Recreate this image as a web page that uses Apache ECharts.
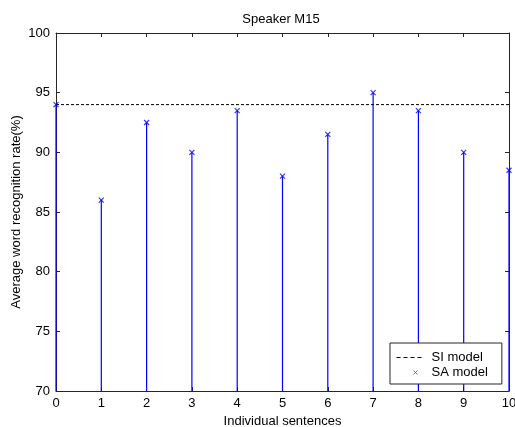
<!DOCTYPE html>
<html>
<head>
<meta charset="utf-8">
<script src="https://cdn.jsdelivr.net/npm/echarts@6/dist/echarts.min.js"></script>
<style>
  html, body { margin: 0; padding: 0; background: #fff; }
  #chart { width: 515px; height: 427px; }
</style>
</head>
<body>
<div id="chart"></div>
<script>
// Sentence indices and per-sentence recognition rates
const sentences = [0, 1, 2, 3, 4, 5, 6, 7, 8, 9, 10];
const saRates = [94, 86, 92.5, 90, 93.5, 88, 91.5, 95, 93.5, 90, 88.5];
const siRate = 94;
const yTicks = [70, 75, 80, 85, 90, 95, 100];

const axisColor = '#262626';
const font = 'Liberation Sans, Arial, sans-serif';
const crossPath = 'path://M0,0L10,10M10,0L0,10';
// legend glyphs: padded with zero-length segments so the icon box keeps 1:1 scale
const dashIcon = 'path://M-13,-6L-13,-6M13,6L13,6M-13,0L-9,0M-6,0L-2,0M1,0L5,0M8,0L12,0';
const crossIcon = 'path://M-13,-6L-13,-6M13,6L13,6M4,-2L8,2M8,-2L4,2';

const saPoints = sentences.map((s, i) => [s, saRates[i]]);

const chart = echarts.init(document.getElementById('chart'), null, { renderer: 'canvas' });

const boxAxis = (extra) => Object.assign({
  axisLine: { show: true, onZero: false, lineStyle: { color: axisColor, width: 1 } },
  axisTick: { show: true, inside: true, length: 4, lineStyle: { color: axisColor } },
  splitLine: { show: false }
}, extra);

chart.setOption({
  animation: false,
  backgroundColor: '#fff',
  title: {
    text: 'Speaker M15',
    left: 276, top: 8, textAlign: 'center',
    textStyle: { fontFamily: font, fontSize: 13, fontWeight: 'normal', color: '#000' }
  },
  grid: { left: 56, right: 6, top: 33, bottom: 36, containLabel: false, outerBoundsMode: 'none' },
  legend: {
    data: [
      { name: 'SI model', icon: dashIcon,
        itemStyle: { color: 'none', borderColor: '#000', borderWidth: 1 } },
      { name: 'SA model', icon: crossIcon,
        itemStyle: { color: 'none', borderColor: '#4040ff', borderWidth: 1 } }
    ],
    orient: 'vertical',
    left: 390, top: 343,
    padding: [6, 14, 3, 4],
    itemGap: -2,
    itemWidth: 26, itemHeight: 12,
    borderColor: axisColor, borderWidth: 1,
    backgroundColor: '#fff',
    textStyle: { fontFamily: font, fontSize: 13, color: '#000', padding: [0, 0, 0, 4] }
  },
  xAxis: [
    boxAxis({
      type: 'value', min: 0, max: 10, interval: 1, position: 'bottom',
      name: 'Individual sentences', nameLocation: 'middle', nameGap: 24,
      nameTextStyle: { fontFamily: font, fontSize: 13, color: '#000' },
      axisLabel: { fontFamily: font, fontSize: 13, color: '#000', margin: 6,
        formatter: v => String(v) }
    }),
    boxAxis({
      type: 'value', min: 0, max: 10, interval: 1, position: 'top',
      axisLabel: { show: false }
    })
  ],
  yAxis: [
    boxAxis({
      type: 'value', min: yTicks[0], max: yTicks[yTicks.length - 1], interval: 5, position: 'left',
      name: 'Average word recognition rate(%)', nameLocation: 'middle', nameGap: 33,
      nameMoveOverlap: false,
      nameTextStyle: { fontFamily: font, fontSize: 13, color: '#000' },
      axisLabel: { fontFamily: font, fontSize: 13, color: '#000', margin: 6 }
    }),
    boxAxis({
      type: 'value', min: yTicks[0], max: yTicks[yTicks.length - 1], interval: 5, position: 'right',
      axisLabel: { show: false }
    })
  ],
  series: [
    {
      // vertical stems from the axis floor up to each rate
      name: 'stems',
      type: 'custom',
      xAxisIndex: 0, yAxisIndex: 0,
      z: 3,
      data: saPoints,
      renderItem: function (params, api) {
        const top = api.coord([api.value(0), api.value(1)]);
        const base = api.coord([api.value(0), yTicks[0]]);
        return {
          type: 'line',
          shape: { x1: top[0], y1: top[1], x2: base[0], y2: base[1] },
          style: { stroke: '#0000ff', lineWidth: 1.2 }
        };
      }
    },
    {
      name: 'SI model',
      type: 'line',
      xAxisIndex: 0, yAxisIndex: 0,
      data: [[sentences[0], siRate], [sentences[sentences.length - 1], siRate]],
      symbol: 'none',
      z: 4,
      lineStyle: { color: '#000', width: 1, type: [3, 2] },
      itemStyle: { color: '#000' }
    },
    {
      name: 'SA model',
      type: 'scatter',
      xAxisIndex: 0, yAxisIndex: 0,
      data: saPoints,
      symbol: crossPath,
      symbolSize: 5,
      z: 5,
      itemStyle: { color: 'none', borderColor: '#0000ff', borderWidth: 1.2 }
    }
  ]
});
</script>
</body>
</html>
